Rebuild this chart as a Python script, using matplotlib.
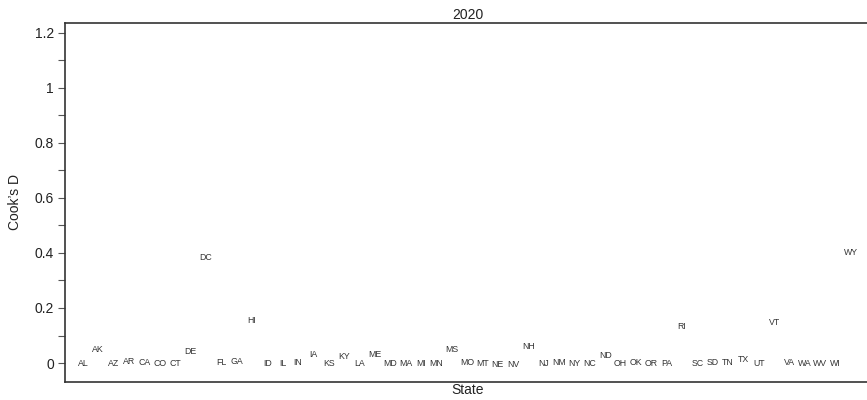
import matplotlib
matplotlib.use("Agg")
import matplotlib.pyplot as plt
import numpy as np
from matplotlib.ticker import MultipleLocator

plt.rcParams["font.family"] = ["Liberation Sans", "DejaVu Sans"]

# Cook's distance per state, 2020 model
states = ["AL", "AK", "AZ", "AR", "CA", "CO", "CT", "DE", "DC", "FL",
          "GA", "HI", "ID", "IL", "IN", "IA", "KS", "KY", "LA", "ME",
          "MD", "MA", "MI", "MN", "MS", "MO", "MT", "NE", "NV", "NH",
          "NJ", "NM", "NY", "NC", "ND", "OH", "OK", "OR", "PA", "RI",
          "SC", "SD", "TN", "TX", "UT", "VT", "VA", "WA", "WV", "WI", "WY"]
cooks_d = [0.003, 0.051, 0.003, 0.008, 0.005, 0.003, 0.003, 0.045, 0.387, 0.005,
           0.010, 0.158, 0.003, 0.003, 0.005, 0.035, 0.003, 0.029, 0.002, 0.035,
           0.003, 0.003, 0.003, 0.003, 0.051, 0.005, 0.003, 0.000, 0.000, 0.063,
           0.003, 0.005, 0.003, 0.003, 0.032, 0.003, 0.007, 0.003, 0.003, 0.136,
           0.003, 0.005, 0.005, 0.015, 0.001, 0.150, 0.007, 0.003, 0.002, 0.003, 0.405]
year = "2020"

x = np.arange(1, len(states) + 1)

fig = plt.figure(figsize=(8.67, 4.0), dpi=100)
ax = fig.add_axes([65 / 867, 18 / 400, 806 / 867, 359 / 400])

for xi, yi, lab in zip(x, cooks_d, states):
    ax.text(xi, yi, lab, ha="center", va="center_baseline", fontsize=6.3,
            color="#333333")

ax.set_xlim(-0.17, 52.3)
ax.set_ylim(-0.069, 1.236)
ax.yaxis.set_major_locator(MultipleLocator(0.2))
ax.yaxis.set_minor_locator(MultipleLocator(0.1))
ax.yaxis.set_major_formatter(plt.FuncFormatter(lambda v, p: f"{v:g}"))
ax.set_xticks([])
ax.tick_params(axis="y", which="both", direction="out", length=5, width=0.8,
               color="#555555", labelsize=10, labelcolor="#222222", pad=3)

for side in ["left", "top", "bottom", "right"]:
    ax.spines[side].set_color("#333333")
    ax.spines[side].set_linewidth(1.2)

ax.set_title(year, fontsize=10, color="#222222", pad=3)
ax.set_xlabel("State", fontsize=10, color="#222222", labelpad=1)
ax.set_ylabel("Cook\u2019s D", fontsize=10, color="#222222", labelpad=9)

fig.savefig("out.png", dpi=100)
